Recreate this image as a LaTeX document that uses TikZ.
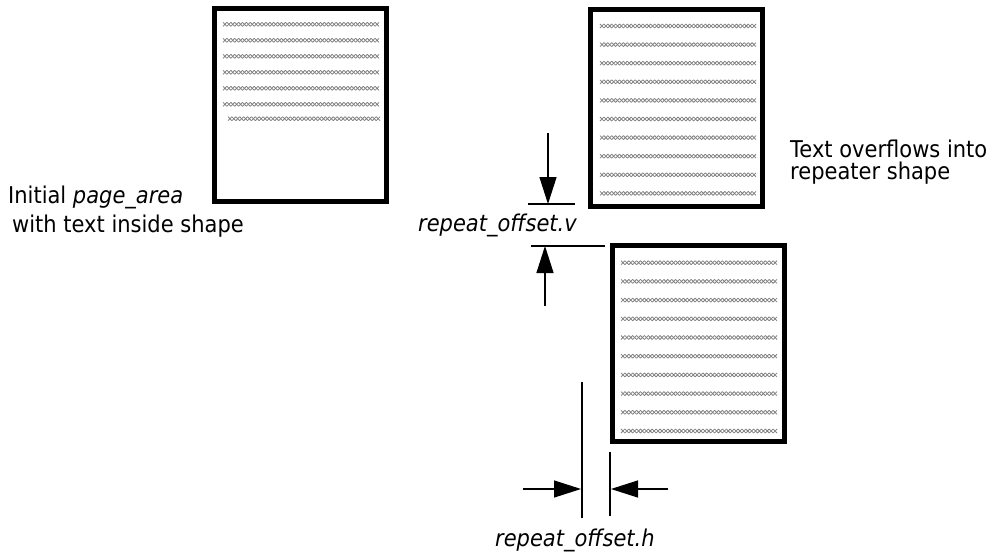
\documentclass[tikz,border=0pt]{standalone}
\usepackage{fontspec}
\setmainfont{DejaVu Sans}
\usetikzlibrary{arrows.meta}
\newcommand\xrow[3]{% start x, y, count
  \draw[xstroke] \foreach \k in {1,...,#3} {(#1+3.9*\k-3.9,#2-2) -- ++(3.9,4) (#1+3.9*\k-3.9,#2+2) -- ++(3.9,-4)};}
\newcommand\tallish[1]{\scalebox{1}[1.1]{#1}}
\begin{document}
\begin{tikzpicture}[x=1pt,y=-1pt,
  page/.style={draw, line width=5pt, minimum width=172pt, inner sep=0pt, outer sep=0pt},
  dimline/.style={line width=1.3pt},
  dimarrow/.style={line width=1.3pt, -{Triangle[length=27pt,width=17pt]}},
  lbl/.style={font=\fontsize{21}{25}\selectfont, inner sep=0pt},
  xstroke/.style={draw=black!50, line width=0.75pt}]
\useasboundingbox[fill=white] (0,0) rectangle (997,554);

% pages
\node[page, minimum height=193pt] (b1) at (300.5,105) {};
\node[page, minimum height=197pt] (b2) at (676.5,108) {};
\node[page, minimum height=196pt] (b3) at (698.5,343.5) {};

% text rows
\foreach \i in {0,...,5} {\xrow{223}{24.3+16*\i}{40}}
\xrow{228}{118.7}{39}
\foreach \i in {0,...,9} {\xrow{600}{26+18.6*\i}{40}}
\foreach \i in {0,...,9} {\xrow{621}{262.7+18.7*\i}{40}}

% labels
\node[lbl, anchor=base west] (t1) at (8,203) {\tallish{Initial \textit{page\_area}}};
\node[lbl, anchor=base west] (t2) at (12,232) {\tallish{with text inside shape}};
\node[lbl, anchor=base west] (t3) at (790,157) {\tallish{Text overflows into}};
\node[lbl, anchor=base west] (t4) at (790,179) {\tallish{repeater shape}};
\node[lbl, anchor=base west] (lv) at (418,231) {\tallish{\textit{repeat\_offset.v}}};
\node[lbl, anchor=base west] (lh) at (495,546.5) {\tallish{\textit{repeat\_offset.h}}};

% vertical offset dimension
\coordinate (vtopS) at (548,133);
\coordinate (vtop) at (548,204);
\coordinate (vl1a) at (528,204);
\coordinate (vl1b) at (575,204);
\coordinate (vbotS) at (545,306);
\coordinate (vbot) at (545,246);
\coordinate (vl2a) at (531,246);
\coordinate (vl2b) at (605,246);
\draw[dimline] (vl1a) -- (vl1b);
\draw[dimline] (vl2a) -- (vl2b);
\draw[dimarrow] (vtopS) -- (vtop);
\draw[dimarrow] (vbotS) -- (vbot);

% horizontal offset dimension
\coordinate (h1a) at (582,382);
\coordinate (h1b) at (582,518);
\coordinate (h2a) at (610,452);
\coordinate (h2b) at (610,516);
\coordinate (hlS) at (523,489);
\coordinate (hl) at (581,489);
\coordinate (hrS) at (668,489);
\coordinate (hr) at (611,489);
\draw[dimline] (h1a) -- (h1b);
\draw[dimline] (h2a) -- (h2b);
\draw[dimarrow] (hlS) -- (hl);
\draw[dimarrow] (hrS) -- (hr);
\end{tikzpicture}
\end{document}
